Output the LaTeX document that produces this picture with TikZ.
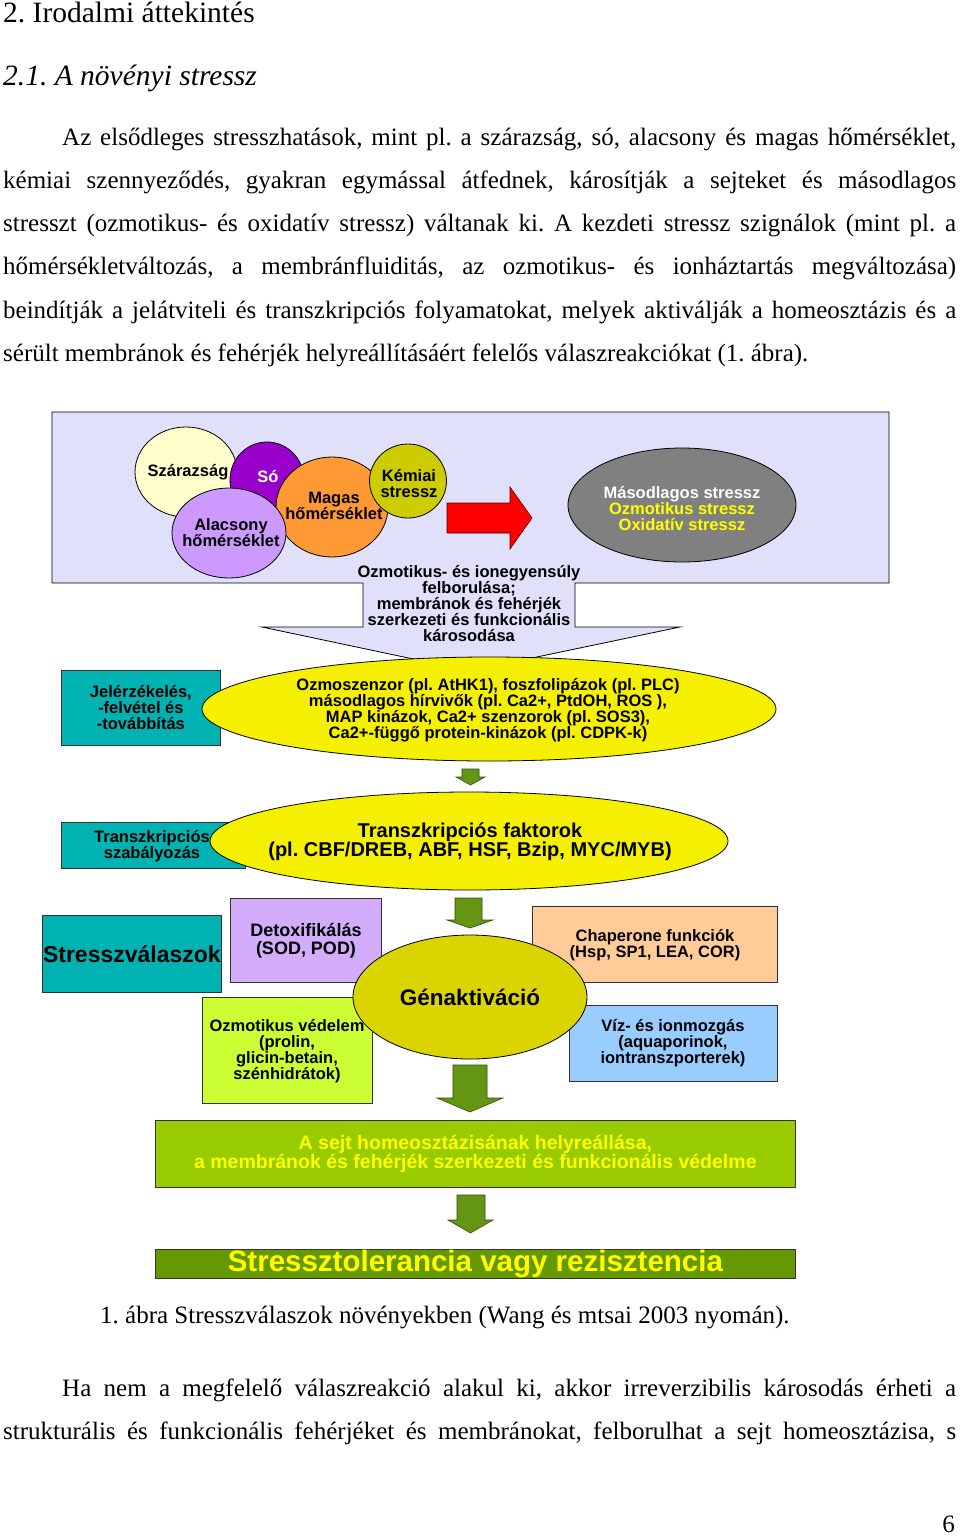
\documentclass[tikz,border=0pt]{standalone}
\usepackage{fontspec}
\setmainfont{Liberation Serif}
\newfontfamily\dsans{Liberation Sans}
\usetikzlibrary{shapes.geometric}
\frenchspacing
\definecolor{lav}{RGB}{224,224,250}
\definecolor{cszar}{RGB}{255,255,204}
\definecolor{cso}{RGB}{153,0,204}
\definecolor{calac}{RGB}{204,153,255}
\definecolor{cmag}{RGB}{255,153,51}
\definecolor{ckem}{RGB}{204,204,0}
\definecolor{cgray}{RGB}{128,128,128}
\definecolor{cteal}{RGB}{0,178,178}
\definecolor{cyel}{RGB}{245,240,0}
\definecolor{cgen}{RGB}{218,212,0}
\definecolor{cdet}{RGB}{212,172,252}
\definecolor{cozm}{RGB}{204,255,51}
\definecolor{cchap}{RGB}{255,204,153}
\definecolor{cviz}{RGB}{153,204,255}
\definecolor{cgreen}{RGB}{153,204,0}
\definecolor{cdgreen}{RGB}{102,153,0}
\definecolor{carr}{RGB}{100,150,20}
\definecolor{ctxt}{RGB}{255,255,0}
\begin{document}
\begin{tikzpicture}[x=1pt,y=-1pt,
  body/.style={anchor=base west, inner sep=0, font=\frenchspacing\fontsize{25}{28}\selectfont},
  head/.style={anchor=base west, inner sep=0, font=\fontsize{29.5}{32}\selectfont},
  lbl/.style={font=\dsans\bfseries\fontsize{16.5}{16}\selectfont, align=center, inner sep=0},
  ell/.style={ellipse, draw=black, line width=0.8pt, inner sep=0},
  box/.style={rectangle, draw=black!80, line width=0.8pt, inner sep=0, anchor=north west,
    font=\dsans\bfseries\fontsize{16.5}{16}\selectfont, align=center},
  garrow/.style={fill=carr, draw=black!50!carr, line width=0.6pt}]
\useasboundingbox (0,0) rectangle (960,1537);
\fill[white] (0,0) rectangle (960,1537);

% ---------- text above ----------
\node[head] (h1) at (3,22) {2. Irodalmi áttekintés};
\node[head] (h2) at (3,85) {\itshape 2.1. A növényi stressz};
\node[body] (p1) at (62,145) {\makebox[894pt][s]{Az elsődleges stresszhatások, mint pl. a szárazság, só, alacsony és magas hőmérséklet,}};
\node[body] (p2) at (3,188) {\makebox[953pt][s]{kémiai szennyeződés, gyakran egymással átfednek, károsítják a sejteket és másodlagos}};
\node[body] (p3) at (3,231) {\makebox[953pt][s]{stresszt (ozmotikus- és oxidatív stressz) váltanak ki. A kezdeti stressz szignálok (mint pl. a}};
\node[body] (p4) at (3,274) {\makebox[953pt][s]{hőmérsékletváltozás, a membránfluiditás, az ozmotikus- és ionháztartás megváltozása)}};
\node[body] (p5) at (3,318) {\makebox[953pt][s]{beindítják a jelátviteli és transzkripciós folyamatokat, melyek aktiválják a homeosztázis és a}};
\node[body] (p6) at (3,361) {sérült membránok és fehérjék helyreállításáért felelős válaszreakciókat (1. ábra).};

% ---------- top panel ----------
\draw[fill=lav, line width=0.8pt] (52,412) -- (889,412) -- (889,583) -- (575,583) -- (575,627)
  -- (680,627) -- (470,671) -- (262,627) -- (363,627) -- (363,583) -- (52,583) -- cycle;

\node[ell, fill=cszar, minimum width=102pt, minimum height=90pt] (szar) at (186,472) {};
\node[lbl] (szart) at (188,472) {Szárazság};
\node[ell, fill=cso, minimum width=74pt, minimum height=76pt] (so) at (267,480) {};
\node[lbl, text=white] (sot) at (268,477) {Só};
\node[ell, fill=cmag, minimum width=112pt, minimum height=100pt] (mag) at (332,507) {};
\node[lbl] (magt) at (334,506) {Magas\\hőmérséklet};
\node[ell, fill=ckem, minimum width=77pt, minimum height=74pt] (kem) at (408,481) {};
\node[lbl] (kemt) at (409,484) {Kémiai\\stressz};
\node[ell, fill=calac, minimum width=114pt, minimum height=90pt] (alac) at (229,533) {};
\node[lbl] (alact) at (231,533) {Alacsony\\hőmérséklet};

\draw[fill=red, draw=black!70!red, line width=0.6pt] (447,503) -- (510,503) -- (510,487) -- (532,518)
  -- (510,549) -- (510,533) -- (447,533) -- cycle;

\node[ell, fill=cgray, minimum width=228pt, minimum height=114pt] (masod) at (682,505) {};
\node[lbl] (masodt) at (682,509) {\textcolor{white}{Másodlagos stressz}\\\textcolor{ctxt}{Ozmotikus stressz}\\\textcolor{ctxt}{Oxidatív stressz}};

\node[lbl] (callt) at (469,604) {Ozmotikus- és ionegyensúly\\felborulása;\\membránok és fehérjék\\szerkezeti és funkcionális\\károsodása};

% ---------- signalling ----------
\node[box, fill=cteal, minimum width=159pt, minimum height=75pt] (jel) at (61,670) {Jelérzékelés,\\-felvétel és\\-továbbítás};
\node[ell, fill=cyel, minimum width=574pt, minimum height=104pt] (ozmo) at (489,709) {};
\node[lbl] (ozmot) at (488,710) {Ozmoszenzor (pl. AtHK1), foszfolipázok (pl. PLC)\\másodlagos hírvivők (pl. Ca2+, PtdOH, ROS ),\\MAP kinázok, Ca2+ szenzorok (pl. SOS3),\\Ca2+-függő protein-kinázok (pl. CDPK-k)};

\draw[garrow] (462,769) -- (479,769) -- (479,777) -- (485,777) -- (470.5,785) -- (456,777) -- (462,777) -- cycle;

% ---------- transcription ----------
\node[box, fill=cteal, minimum width=184pt, minimum height=46pt] (trsz) at (61,822) {};
\node[lbl] (trszt) at (152,846) {Transzkripciós\\szabályozás};
\node[ell, fill=cyel, minimum width=518pt, minimum height=98pt] (tf) at (469,841) {};
\node[lbl, font=\dsans\bfseries\fontsize{20}{19}\selectfont] (tft) at (470,842) {Transzkripciós faktorok\\(pl. CBF/DREB, ABF, HSF, Bzip, MYC/MYB)};

\draw[garrow] (455,898) -- (482,898) -- (482,920) -- (493,920) -- (470,928) -- (447,920) -- (455,920) -- cycle;

% ---------- responses ----------
\node[box, fill=cteal, minimum width=179pt, minimum height=77pt, font=\dsans\bfseries\fontsize{23}{24}\selectfont] (valasz) at (42,915) {Stresszválaszok};
\node[box, fill=cdet, minimum width=151pt, minimum height=84pt, font=\dsans\bfseries\fontsize{18}{18}\selectfont] (detox) at (230,898) {};
\node[lbl, font=\dsans\bfseries\fontsize{18}{18}\selectfont] (detoxt) at (306,941) {Detoxifikálás\\(SOD, POD)};
\node[box, fill=cozm, minimum width=170pt, minimum height=106pt] (ozv) at (202,997) {};
\node[lbl] (ozvt) at (287,1051) {Ozmotikus védelem\\(prolin,\\glicin-betain,\\szénhidrátok)};
\node[box, fill=cchap, minimum width=245pt, minimum height=76pt] (chap) at (532,906) {};
\node[lbl] (chapt) at (655,945) {Chaperone funkciók\\(Hsp, SP1, LEA, COR)};
\node[box, fill=cviz, minimum width=208pt, minimum height=76pt] (viz) at (569,1005) {};
\node[lbl] (vizt) at (673,1043) {Víz- és ionmozgás\\(aquaporinok,\\iontranszporterek)};
\node[ell, fill=cgen, minimum width=234pt, minimum height=124pt] (gen) at (470,997) {};
\node[lbl, font=\dsans\bfseries\fontsize{22.5}{24}\selectfont] (gent) at (470,997) {Génaktiváció};

\draw[garrow] (453,1065) -- (487,1065) -- (487,1098) -- (503,1098) -- (470,1112) -- (437,1098) -- (453,1098) -- cycle;

% ---------- outcome ----------
\node[box, fill=cgreen, minimum width=640pt, minimum height=67pt, text=ctxt, font=\dsans\bfseries\fontsize{19.5}{19}\selectfont] (homeo) at (155,1120) {A sejt homeosztázisának helyreállása,\\a membránok és fehérjék szerkezeti és funkcionális védelme};

\draw[garrow] (457,1195) -- (485,1195) -- (485,1220) -- (493,1220) -- (470.5,1233) -- (448,1220) -- (457,1220) -- cycle;

\node[box, fill=cdgreen, minimum width=640pt, minimum height=29pt, text=ctxt, font=\dsans\bfseries\fontsize{29.5}{30}\selectfont] (tol) at (155,1249) {Stressztolerancia vagy rezisztencia};

% ---------- caption and text below ----------
\node[body] (cap) at (100,1323) {1. ábra Stresszválaszok növényekben (Wang és mtsai 2003 nyomán).};
\node[body] (q1) at (62,1396) {\makebox[894pt][s]{Ha nem a megfelelő válaszreakció alakul ki, akkor irreverzibilis károsodás érheti a}};
\node[body] (q2) at (3,1439) {\makebox[953pt][s]{strukturális és funkcionális fehérjéket és membránokat, felborulhat a sejt homeosztázisa, s}};
\node[body, anchor=base east] (pg) at (955,1532) {6};
\end{tikzpicture}
\end{document}
